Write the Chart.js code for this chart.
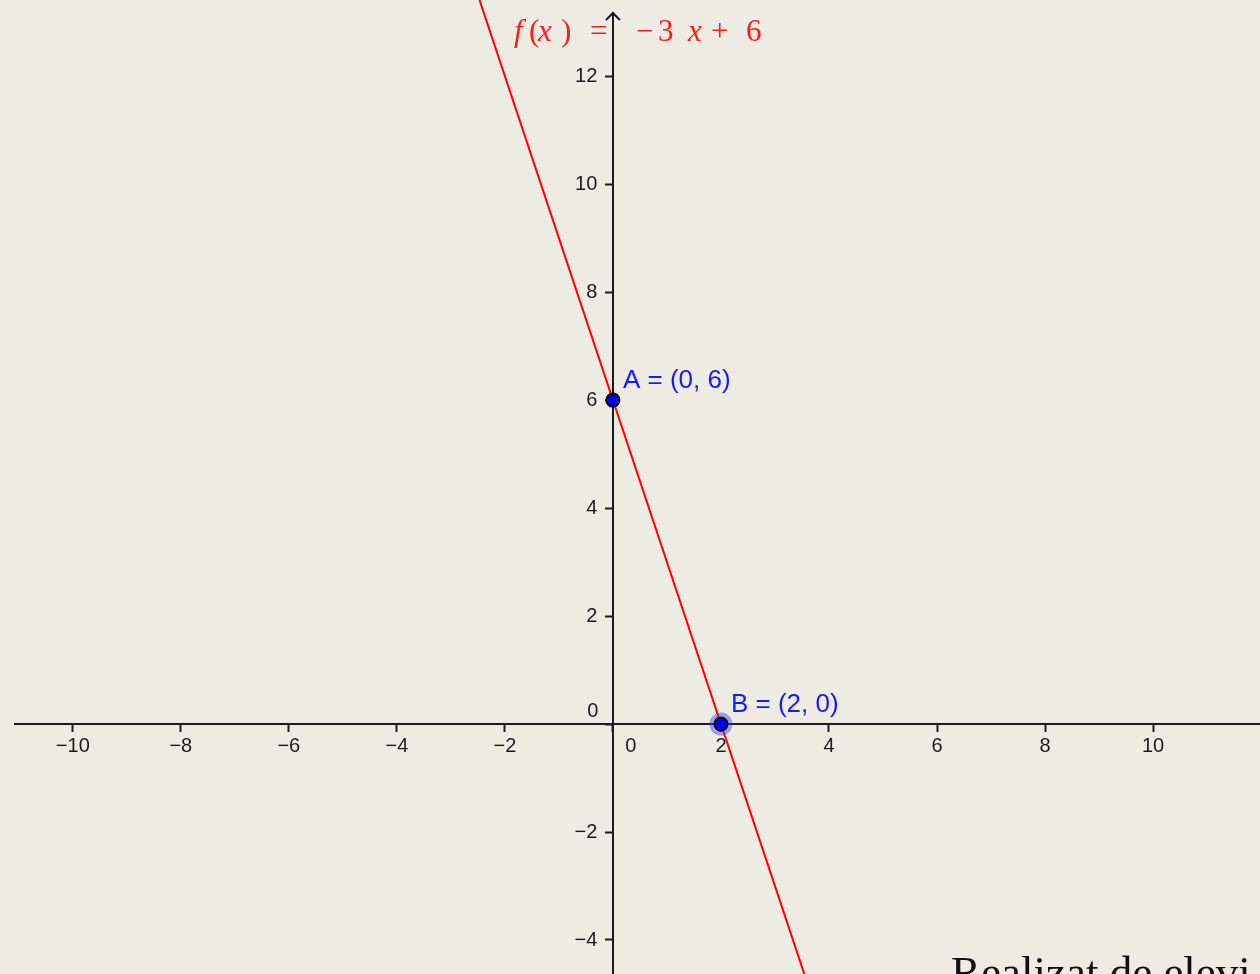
<!DOCTYPE html>
<html>
<head>
<meta charset="utf-8">
<script src="https://cdn.jsdelivr.net/npm/chart.js@4.4.1/dist/chart.umd.min.js"></script>
<style>
  html, body { margin: 0; padding: 0; background: #eeebe3; overflow: hidden; }
  #wrap { width: 1260px; height: 974px; }
</style>
</head>
<body>
<div id="wrap"><canvas id="graph"></canvas></div>
<script>
// values
const xTicks = [-10, -8, -6, -4, -2, 0, 2, 4, 6, 8, 10];
const yTicks = [-4, -2, 0, 2, 4, 6, 8, 10, 12];

// f(x) = -3x + 6, end points where it leaves the view
const lineX = [-2.47, 3.62];
const lineY = [13.41, -4.86];

const pointNames = ["A", "B"];
const pointX = [0, 2];
const pointY = [6, 0];

const bg = "#eeebe3";
const axisColor = "#1c1c1c";
const sans = "'Liberation Sans', Arial, sans-serif";
const serif = "'Liberation Serif', 'DejaVu Serif', serif";
const minus = s => String(s).replace("-", "\u2212");

const extras = {
    id: "extras",
    beforeDraw(chart) {
        const c = chart.ctx;
        c.save();
        c.fillStyle = bg;
        c.fillRect(0, 0, chart.width, chart.height);
        c.restore();
    },
    afterDraw(chart) {
        const c = chart.ctx;
        const xs = chart.scales.x, ys = chart.scales.y;
        const ox = xs.getPixelForValue(0), oy = ys.getPixelForValue(0);
        c.save();

        // arrow head on the y axis
        const top = chart.chartArea.top;
        c.strokeStyle = axisColor;
        c.lineWidth = 2;
        c.beginPath();
        c.moveTo(ox - 7, top + 7);
        c.lineTo(ox, top);
        c.lineTo(ox + 7, top + 7);
        c.stroke();

        // the two "0" labels, offset like the original
        c.fillStyle = axisColor;
        c.font = "20px " + sans;
        c.textAlign = "center";
        c.textBaseline = "middle";
        c.fillText("0", ox + 18, oy + 22);
        c.fillText("0", ox - 20, oy - 13);

        // point labels
        c.fillStyle = "#1818ff";
        c.font = "26px " + sans;
        c.textAlign = "left";
        c.textBaseline = "alphabetic";
        pointNames.forEach((n, i) => {
            const px = xs.getPixelForValue(pointX[i]);
            const py = ys.getPixelForValue(pointY[i]);
            c.fillText(n + " = (" + pointX[i] + ", " + pointY[i] + ")", px + 10, py - 12);
        });

        // function label
        c.fillStyle = "#ff1a1a";
        const it = "italic 31px " + serif;
        const up = "31px " + serif;
        const parts = [
            ["f", it, 514], ["(", up, 529], ["x", it, 538], [")", up, 561],
            ["=", up, 590], ["\u2212", up, 636], ["3", up, 658],
            ["x", it, 688], ["+", up, 711], ["6", up, 746]
        ];
        parts.forEach(([t, f, x]) => {
            c.font = f;
            c.fillText(t, x, 41);
        });

        // footer text, cut off by the bottom edge
        c.fillStyle = "#111";
        c.font = "45px " + serif;
        c.fillText("Realizat de elevi", 951, 987);
        c.restore();
    }
};

const noPad = scale => {
    scale.paddingTop = 0;
    scale.paddingBottom = 0;
    scale.paddingLeft = 0;
    scale.paddingRight = 0;
};

new Chart(document.getElementById("graph"), {
    type: "scatter",
    data: {
        datasets: [
            {
                label: "points",
                data: pointX.map((x, i) => ({ x, y: pointY[i] })),
                pointRadius: 6.5,
                pointBackgroundColor: "#0000ff",
                pointBorderColor: "#000",
                pointBorderWidth: 2,
                clip: false,
            },
            {
                label: "halo",
                data: [{ x: pointX[1], y: pointY[1] }],
                pointRadius: 11.5,
                pointBackgroundColor: "rgba(60, 60, 255, 0.45)",
                pointBorderWidth: 0,
                clip: false,
            },
            {
                label: "f(x)",
                data: lineX.map((x, i) => ({ x, y: lineY[i] })),
                showLine: true,
                borderColor: "#ff0000",
                borderWidth: 2,
                pointRadius: 0,
                clip: false,
            },
        ],
    },
    options: {
        responsive: true,
        maintainAspectRatio: false,
        animation: false,
        layout: { autoPadding: false, padding: { left: 15, top: 13, right: 0, bottom: 0 } },
        plugins: {
            legend: { display: false },
            tooltip: { enabled: false },
        },
        scales: {
            x: {
                type: "linear",
                position: { y: 0 },
                min: -11.07,
                max: 11.98,
                afterBuildTicks: s => { s.ticks = xTicks.map(v => ({ value: v })); },
                afterFit: noPad,
                border: { display: true, color: axisColor, width: 2 },
                grid: { drawOnChartArea: false, drawTicks: true, tickLength: 7, tickWidth: 2, color: axisColor },
                ticks: {
                    color: axisColor,
                    font: { family: sans, size: 20 },
                    padding: 3,
                    maxRotation: 0,
                    autoSkip: false,
                    callback: v => (v === 0 ? "" : minus(v)),
                },
            },
            y: {
                type: "linear",
                position: { x: 0 },
                min: -4.63,
                max: 13.17,
                afterBuildTicks: s => { s.ticks = yTicks.map(v => ({ value: v })); },
                afterFit: noPad,
                border: { display: true, color: axisColor, width: 2 },
                grid: { drawOnChartArea: false, drawTicks: true, tickLength: 7, tickWidth: 2, color: axisColor },
                ticks: {
                    color: axisColor,
                    font: { family: sans, size: 20 },
                    autoSkip: false,
                    // labels sit on the axis itself here, so keep a gap for the tick
                    callback: v => (v === 0 ? "" : minus(v) + "\u2002 "),
                },
            },
        },
    },
    plugins: [extras],
});
</script>
</body>
</html>
